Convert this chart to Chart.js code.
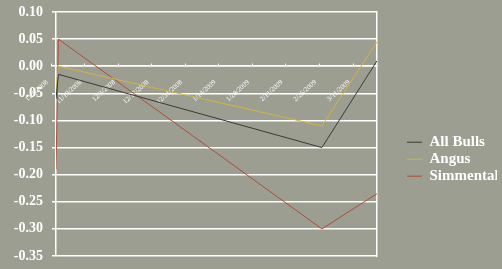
<!DOCTYPE html>
<html>
<head>
<meta charset="utf-8">
<script src="https://cdn.jsdelivr.net/npm/chart.js@4/dist/chart.umd.min.js"></script>
<style>
  html, body { margin: 0; padding: 0; background: #9c9e92; }
  canvas { display: block; }
</style>
</head>
<body>
<canvas id="chart" width="502" height="269"></canvas>
<script>
// sample dates and price changes
const sampleDates = ["2008-11-07", "2008-11-08", "2009-02-26", "2009-03-21"];
const allBulls = [-0.06, -0.015, -0.15, 0.01];
const angus = [-0.045, 0.0, -0.11, 0.045];
const simmental = [-0.19, 0.05, -0.30, -0.235];

const tickDates = ["2008-11-05", "2008-11-19", "2008-12-03", "2008-12-17", "2008-12-31",
  "2009-01-14", "2009-01-28", "2009-02-11", "2009-02-25", "2009-03-11"];
const tickLabels = ["11/5/2008", "11/19/2008", "12/3/2008", "12/17/2008", "12/31/2008",
  "1/14/2009", "1/28/2009", "2/11/2009", "2/25/2009", "3/11/2009"];

const yMin = -0.35, yMax = 0.10, yStep = 0.05;

function dayNum(s) {
  const [y, m, d] = s.split("-").map(Number);
  return Date.UTC(y, m - 1, d) / 86400000;
}

const xs = sampleDates.map(dayNum);
const toPoints = vals => vals.map((v, i) => ({ x: xs[i], y: v }));

const serif = "'Liberation Serif', 'Times New Roman', serif";
const white = "#ffffff";

new Chart(document.getElementById("chart"), {
  type: "line",
  data: {
    datasets: [
      { label: "All Bulls", data: toPoints(allBulls), borderColor: "#3a3a38", backgroundColor: "#2a2a28" },
      { label: "Angus", data: toPoints(angus), borderColor: "#d2b53c", backgroundColor: "#e2c43a" },
      { label: "Simmental", data: toPoints(simmental), borderColor: "#b04a3c", backgroundColor: "#962c1c" }
    ]
  },
  options: {
    responsive: false,
    animation: false,
    devicePixelRatio: 1,
    layout: { padding: { top: 12, bottom: 13, left: 0, right: 5 } },
    elements: {
      line: { borderWidth: 1, tension: 0 },
      point: { radius: 0 }
    },
    scales: {
      x: {
        type: "linear",
        position: { y: 0 },
        min: xs[0],
        max: xs[xs.length - 1],
        afterBuildTicks: scale => { scale.ticks = tickDates.map(d => ({ value: dayNum(d) })); },
        afterFit: scale => { scale.height = 0; },
        ticks: {
          autoSkip: false,
          minRotation: 42,
          maxRotation: 42,
          padding: 15,
          labelOffset: -4,
          color: white,
          font: { family: serif, size: 7 },
          callback: (v, i) => tickLabels[i]
        },
        // small marks pointing up from the zero line
        grid: { display: true, drawOnChartArea: false, color: white, tickLength: -3 },
        border: { color: white, width: 1.5 }
      },
      y: {
        min: yMin,
        max: yMax,
        afterFit: scale => {
          scale.width = 56;
          scale.paddingTop = 0;
          scale.paddingBottom = 0;
        },
        ticks: {
          stepSize: yStep,
          padding: 9,
          color: white,
          font: { family: serif, size: 14, weight: "bold" },
          callback: v => v.toFixed(2)
        },
        grid: { color: white, lineWidth: 1.5, tickLength: 4 },
        border: { color: white, width: 1.5 }
      },
      y2: {
        position: "right",
        min: yMin,
        max: yMax,
        ticks: { display: false },
        grid: { display: false },
        border: { color: white, width: 1.5 },
        afterFit: scale => { scale.width = 28; }
      }
    },
    plugins: {
      legend: {
        position: "right",
        align: "center",
        maxWidth: 92,
        title: { display: true, text: "", padding: { top: 0, bottom: 36 } },
        labels: {
          usePointStyle: true,
          pointStyle: "line",
          pointStyleWidth: 15,
          padding: 2,
          color: white,
          font: { family: serif, size: 15, weight: "bold" }
        }
      },
      tooltip: { enabled: false }
    }
  }
});
</script>
</body>
</html>
